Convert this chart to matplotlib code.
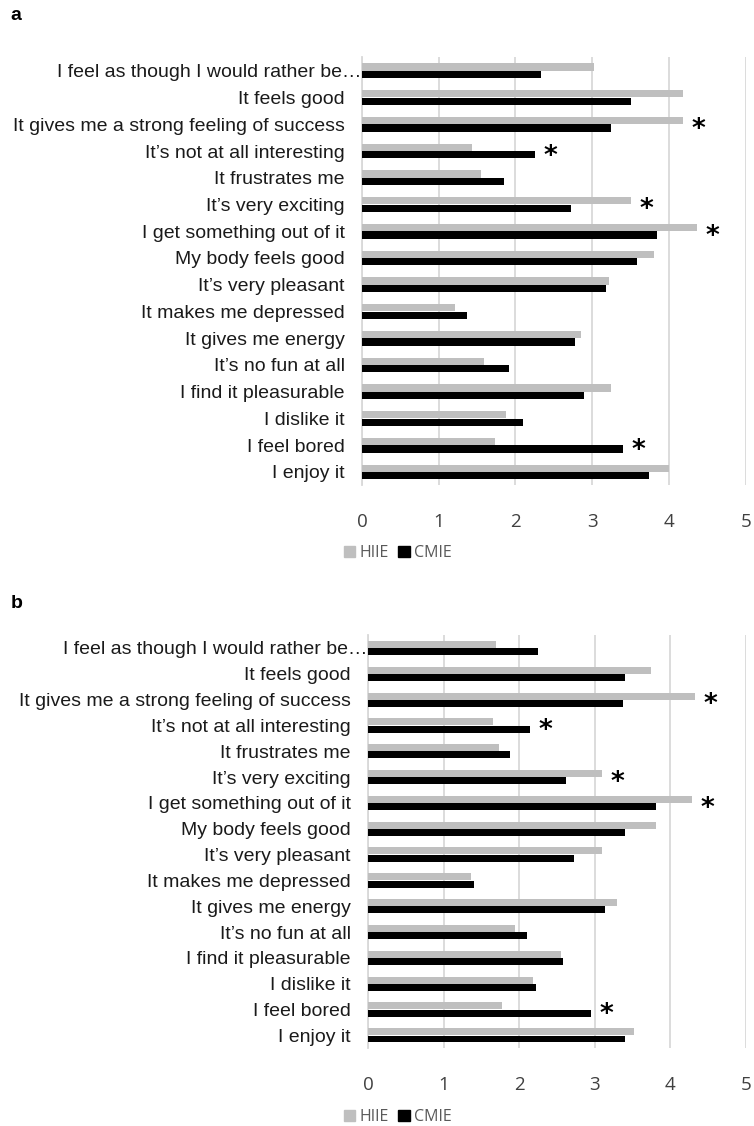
import numpy as np
import matplotlib.pyplot as plt
from matplotlib.patches import Patch

# PACES items, top to bottom
items = [
    "I feel as though I would rather be\u2026",
    "It feels good",
    "It gives me a strong feeling of success",
    "It\u2019s not at all interesting",
    "It frustrates me",
    "It\u2019s very exciting",
    "I get something out of it",
    "My body feels good",
    "It\u2019s very pleasant",
    "It makes me depressed",
    "It gives me energy",
    "It\u2019s no fun at all",
    "I find it pleasurable",
    "I dislike it",
    "I feel bored",
    "I enjoy it",
]

# panel a
hiie_a = [3.03, 4.18, 4.18, 1.44, 1.55, 3.51, 4.37, 3.81, 3.22, 1.21, 2.85, 1.59, 3.25, 1.88, 1.74, 4.00]
cmie_a = [2.33, 3.51, 3.25, 2.25, 1.85, 2.73, 3.85, 3.59, 3.18, 1.37, 2.77, 1.92, 2.89, 2.10, 3.40, 3.74]
sig_a = [2, 3, 5, 6, 14]

# panel b
hiie_b = [1.70, 3.74, 4.33, 1.66, 1.73, 3.10, 4.29, 3.81, 3.10, 1.36, 3.29, 1.95, 2.55, 2.18, 1.77, 3.52]
cmie_b = [2.25, 3.40, 3.37, 2.15, 1.88, 2.62, 3.81, 3.40, 2.73, 1.40, 3.14, 2.10, 2.58, 2.22, 2.95, 3.40]
sig_b = [2, 3, 5, 6, 14]

gray = "#bfbfbf"
grid_col = "#d9d9d9"
label_col = "#1a1a1a"

fig = plt.figure(figsize=(7.54, 11.26), dpi=100)


def draw_panel(rect, hiie, cmie, sig, letter, letter_y, legend_y):
    ax = fig.add_axes(rect)
    y = np.arange(len(items))
    h = 0.27
    ax.barh(y - 0.14, hiie, height=h, color=gray, zorder=3)
    ax.barh(y + 0.14, cmie, height=h, color="black", zorder=3)
    for i in sig:
        top = max(hiie[i], cmie[i])
        ax.text(top + 0.2, y[i] + 0.22, "*", ha="center", va="center",
                fontsize=19, fontweight="bold", color="black", zorder=4)
    ax.set_xlim(0, 5)
    ax.set_ylim(15.5, -0.5)
    ax.set_xticks(range(6))
    ax.set_yticks(y)
    # the truncated first label runs right up to the axis, so draw it by hand
    ax.set_yticklabels([""] + items[1:], fontsize=14, color=label_col,
                       family="Liberation Sans")
    ax.text(-0.002, y[0], items[0], transform=ax.get_yaxis_transform(),
            ha="right", va="center_baseline", fontsize=14, color=label_col,
            family="Liberation Sans")
    for t in ax.get_xticklabels():
        t.set_family("Open Sans")
    ax.tick_params(axis="x", length=0, pad=20, labelsize=13.5, labelcolor="#404040")
    ax.tick_params(axis="y", length=0, pad=12.5)
    ax.grid(axis="x", color=grid_col, linewidth=1.3, zorder=0)
    for s in ["top", "right", "bottom"]:
        ax.spines[s].set_visible(False)
    ax.spines["left"].set_color(grid_col)
    ax.spines["left"].set_linewidth(1.3)
    fig.text(0.014, letter_y, letter, fontsize=14, fontweight="bold",
             family="Liberation Sans", va="center")
    handles = [Patch(color=gray), Patch(color="black")]
    fig.legend(handles, ["HIIE", "CMIE"], loc="center left",
               bbox_to_anchor=(0.445, legend_y), ncol=2, frameon=False,
               handlelength=0.7, handleheight=0.7, handletextpad=0.3,
               columnspacing=0.6, borderpad=0,
               prop={"family": "Open Sans", "size": 11.5}, labelcolor="#595959")
    return ax


draw_panel([0.480, 0.569, 0.509, 0.380], hiie_a, cmie_a, sig_a, "a", 0.986, 1 - 553 / 1126)
draw_panel([0.488, 0.069, 0.501, 0.367], hiie_b, cmie_b, sig_b, "b", 1 - 603 / 1126, 1 - 1117 / 1126)

fig.savefig("out.png", dpi=100)
